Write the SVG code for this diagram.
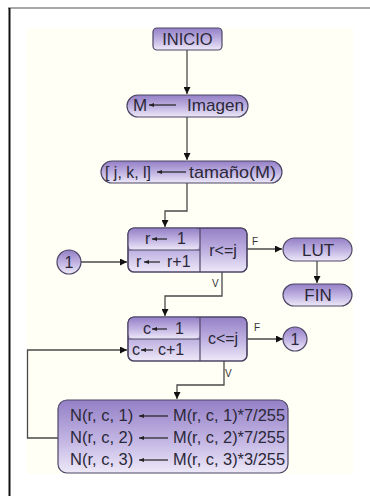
<svg xmlns="http://www.w3.org/2000/svg" width="370" height="496" viewBox="0 0 370 496">
<defs>
<linearGradient id="g" x1="0" y1="0" x2="0" y2="1">
<stop offset="0" stop-color="#947fc6"/>
<stop offset="0.55" stop-color="#c2b5e3"/>
<stop offset="1" stop-color="#eee9f8"/>
</linearGradient>
<marker id="ah" viewBox="0 0 10 10" refX="10" refY="5" markerWidth="7" markerHeight="7" markerUnits="userSpaceOnUse" orient="auto">
<path d="M0,0 L10,5 L0,10 z" fill="#111"/>
</marker>
<marker id="sa" viewBox="0 0 10 10" refX="10" refY="5" markerWidth="5" markerHeight="5" markerUnits="userSpaceOnUse" orient="auto">
<path d="M0,1 L10,5 L0,9 z" fill="#222"/>
</marker>
</defs>
<style>
.n{fill:url(#g);stroke:#4d4766;stroke-width:1.2}
.t{font-family:"Liberation Sans",Arial,sans-serif;font-size:16px;fill:#2b2838}
.m{text-anchor:middle}
.c{fill:none;stroke:#4a4a4a;stroke-width:1.3}
.ia{stroke:#222;stroke-width:1.2;marker-end:url(#sa)}
.l{font-family:"Liberation Sans",Arial,sans-serif;font-size:10px;fill:#333}
</style>
<rect x="27" y="28" width="326" height="446" fill="#fffff6"/>
<line x1="8" y1="8" x2="370" y2="8" stroke="#8a8a8a" stroke-width="1.5"/>
<line x1="9.5" y1="8" x2="9.5" y2="496" stroke="#111" stroke-width="2"/>

<g id="connectors">
<path class="c" d="M187,50 V94" marker-end="url(#ah)"/>
<path class="c" d="M187,117 V160" marker-end="url(#ah)"/>
<path class="c" d="M187,183 V211 H165 V227" marker-end="url(#ah)"/>
<path class="c" d="M81,262 H127" marker-end="url(#ah)"/>
<path class="c" d="M247,249 H282" marker-end="url(#ah)"/>
<text class="l" x="252" y="245">F</text>
<path class="c" d="M317,261 V283" marker-end="url(#ah)"/>
<path class="c" d="M222,272 V296 H165 V316" marker-end="url(#ah)"/>
<text class="l" x="212" y="287">V</text>
<path class="c" d="M247,339 H283" marker-end="url(#ah)"/>
<text class="l" x="254" y="331">F</text>
<path class="c" d="M224,361 V385 H177 V399" marker-end="url(#ah)"/>
<text class="l" x="225" y="377">V</text>
<path class="c" d="M58,438 H27.5 V350 H127" marker-end="url(#ah)"/>
</g>

<g id="inicio">
<rect class="n" x="153" y="28" width="69" height="22" rx="4"/>
<text class="t m" x="187.5" y="45" style="font-size:16.5px">INICIO</text>
</g>

<g id="m-imagen">
<rect class="n" x="127" y="95" width="121" height="22" rx="11"/>
<text class="t" x="133" y="111" style="font-size:17px">M</text>
<line class="ia" x1="176" y1="105" x2="149" y2="105"/>
<text class="t" x="187" y="111" textLength="57" lengthAdjust="spacingAndGlyphs" style="font-size:17px">Imagen</text>
</g>

<g id="tamano">
<rect class="n" x="101" y="161" width="181" height="22" rx="11"/>
<text class="t" x="105" y="178" textLength="46" lengthAdjust="spacingAndGlyphs" style="font-size:17px">[ j, k, l]</text>
<line class="ia" x1="186" y1="172" x2="157" y2="172"/>
<text class="t" x="189" y="178" textLength="87" lengthAdjust="spacingAndGlyphs" style="font-size:17px">tamaño(M)</text>
</g>

<g id="loop-r">
<rect class="n" x="128" y="228" width="119" height="44" rx="6"/>
<rect class="n" x="128" y="228" width="72" height="22" rx="6" style="stroke:none"/>
<line x1="128" y1="250" x2="200" y2="250" stroke="#4d4766" stroke-width="1.2"/>
<line x1="200" y1="228" x2="200" y2="272" stroke="#4d4766" stroke-width="1.2"/>
<rect x="128" y="228" width="119" height="44" rx="6" fill="none" stroke="#4d4766" stroke-width="1.2"/>
<text class="t" x="145" y="244">r</text>
<line class="ia" x1="167" y1="239" x2="152" y2="239"/>
<text class="t" x="177" y="244">1</text>
<text class="t" x="136" y="267">r</text>
<line class="ia" x1="160" y1="262" x2="144" y2="262"/>
<text class="t" x="167" y="267">r+1</text>
<text class="t m" x="223" y="256">r&lt;=j</text>
</g>

<g id="conector1-in">
<circle class="n" cx="69" cy="262" r="12"/>
<text class="t m" x="69" y="268">1</text>
</g>

<g id="lut">
<rect class="n" x="283" y="238" width="69" height="23" rx="11.5"/>
<text class="t m" x="318" y="256" style="font-size:17px">LUT</text>
</g>

<g id="fin">
<rect class="n" x="283" y="284" width="69" height="22" rx="11"/>
<text class="t m" x="318" y="301" style="font-size:17px">FIN</text>
</g>

<g id="loop-c">
<rect class="n" x="128" y="317" width="119" height="44" rx="6"/>
<rect class="n" x="128" y="317" width="72" height="22" rx="6" style="stroke:none"/>
<line x1="128" y1="339" x2="200" y2="339" stroke="#4d4766" stroke-width="1.2"/>
<line x1="200" y1="317" x2="200" y2="361" stroke="#4d4766" stroke-width="1.2"/>
<rect x="128" y="317" width="119" height="44" rx="6" fill="none" stroke="#4d4766" stroke-width="1.2"/>
<text class="t" x="143" y="334">c</text>
<line class="ia" x1="167" y1="329" x2="152" y2="329"/>
<text class="t" x="175" y="334">1</text>
<text class="t" x="132" y="355">c</text>
<line class="ia" x1="153" y1="350" x2="141" y2="350"/>
<text class="t" x="158" y="355">c+1</text>
<text class="t m" x="223" y="344">c&lt;=j</text>
</g>

<g id="conector1-out">
<circle class="n" cx="295" cy="339" r="12"/>
<text class="t m" x="295" y="345">1</text>
</g>

<g id="asignacion">
<rect class="n" x="58" y="400" width="230" height="73" rx="9"/>
<g class="t" style="font-size:16.5px">
<text x="70" y="421">N(r, c, 1)</text>
<text x="173" y="421" textLength="112" lengthAdjust="spacingAndGlyphs">M(r, c, 1)*7/255</text>
<text x="70" y="443">N(r, c, 2)</text>
<text x="173" y="443" textLength="112" lengthAdjust="spacingAndGlyphs">M(r, c, 2)*7/255</text>
<text x="70" y="465">N(r, c, 3)</text>
<text x="173" y="465" textLength="112" lengthAdjust="spacingAndGlyphs">M(r, c, 3)*3/255</text>
</g>
<line class="ia" x1="168" y1="416" x2="139" y2="416"/>
<line class="ia" x1="168" y1="438" x2="139" y2="438"/>
<line class="ia" x1="168" y1="460" x2="139" y2="460"/>
</g>
</svg>
